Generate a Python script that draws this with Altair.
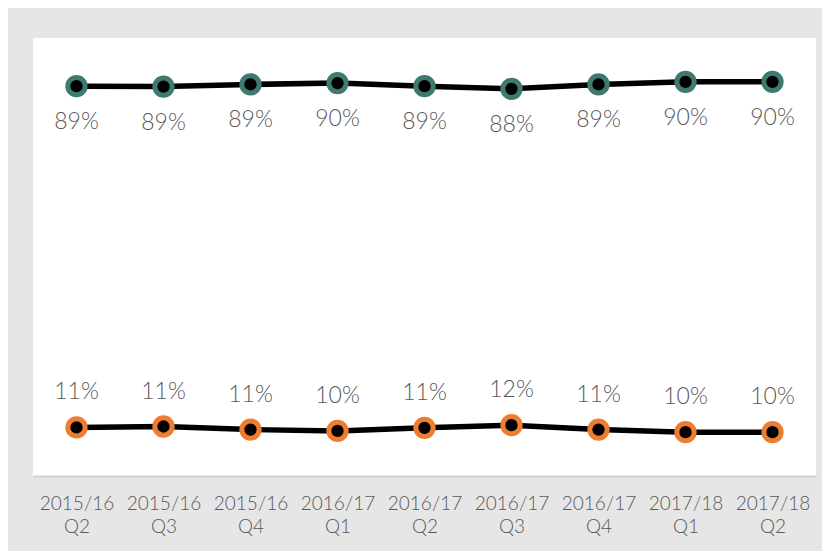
import altair as alt
import pandas as pd

quarters = ["2015/16 Q2", "2015/16 Q3", "2015/16 Q4", "2016/17 Q1", "2016/17 Q2",
            "2016/17 Q3", "2016/17 Q4", "2017/18 Q1", "2017/18 Q2"]
top_vals = [89.0, 88.9, 89.4, 89.7, 89.0, 88.4, 89.4, 90.0, 90.0]
bottom_vals = [11.1, 11.3, 10.6, 10.3, 11.0, 11.6, 10.6, 10.0, 10.0]
series_names = ["Top", "Bottom"]
series_colors = ["#3f7a70", "#ed7d31"]

rows = []
for q, v in zip(quarters, top_vals):
    rows.append({"quarter": q, "value": v, "series": "Top"})
for q, v in zip(quarters, bottom_vals):
    rows.append({"quarter": q, "value": v, "series": "Bottom"})
df = pd.DataFrame(rows)

x = alt.X("quarter:N", sort=quarters, title=None,
          scale=alt.Scale(type="point", padding=0.5),
          axis=alt.Axis(labelAngle=0, labelExpr="split(datum.label, ' ')",
                        labelFont="Lato", labelFontSize=19, labelFontWeight=300,
                        labelColor="#595959",
                        labelLineHeight=23, labelPadding=18, ticks=False,
                        domainColor="#d0d0d0", domainWidth=2, grid=False))
y = alt.Y("value:Q", title=None, scale=alt.Scale(domain=[0, 100], nice=False, zero=True),
          axis=None)

base = alt.Chart(df)

lines = base.mark_line(color="black", strokeWidth=5.5).encode(x=x, y=y, detail="series:N")
points = base.mark_point(shape="circle", filled=False, fill="black", fillOpacity=1,
                         size=300, strokeWidth=5, opacity=1).encode(
    x=x, y=y,
    stroke=alt.Stroke("series:N", scale=alt.Scale(domain=series_names, range=series_colors),
                      legend=None))

label_props = dict(font="Lato", fontSize=23, fontWeight=300, color="#595959")
top_text = base.transform_filter(alt.datum.series == "Top").transform_calculate(
    lbl="format(datum.value, '.0f') + '%'").mark_text(dy=36, **label_props).encode(
    x=x, y=y, text="lbl:N")
bottom_text = base.transform_filter(alt.datum.series == "Bottom").transform_calculate(
    lbl="format(datum.value, '.0f') + '%'").mark_text(dy=-35, **label_props).encode(
    x=x, y=y, text="lbl:N")

chart = alt.layer(lines, points, top_text, bottom_text).properties(
    width=783, height=438,
    background="#e6e6e6",
    padding={"left": 25, "top": 30, "right": 6, "bottom": 75},
    autosize=alt.AutoSizeParams(type="none"),
).configure_view(fill="white", stroke=None)

chart.save("out.html", embed_options={"renderer": "svg", "actions": False})
